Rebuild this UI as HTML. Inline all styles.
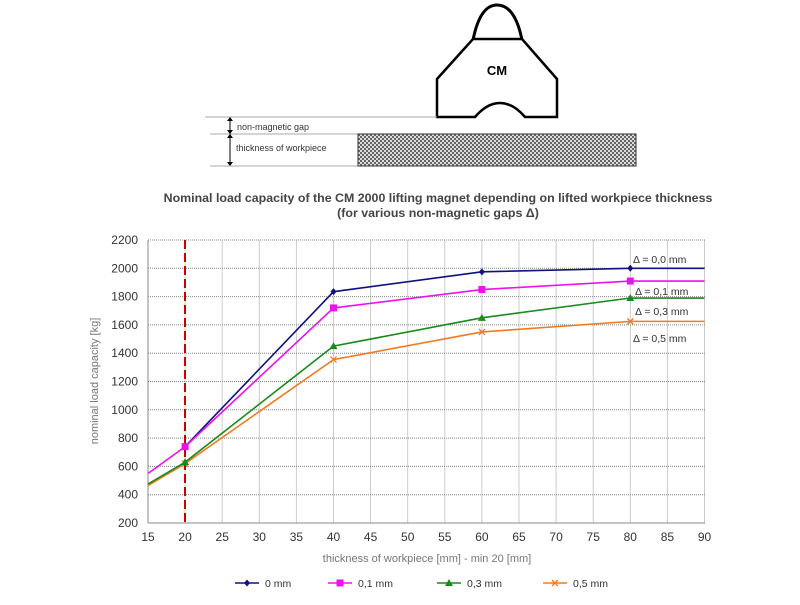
<!DOCTYPE html>
<html><head><meta charset="utf-8"><style>
body{margin:0;background:#fff;width:800px;height:600px;overflow:hidden;font-family:"Liberation Sans",sans-serif}
</style></head><body>
<svg id="s" width="800" height="600" xmlns="http://www.w3.org/2000/svg" font-family="Liberation Sans, sans-serif">
<defs><pattern id="ck" width="4" height="4" patternUnits="userSpaceOnUse"><rect width="4" height="4" fill="#ddd"/><rect width="2" height="2" fill="#666"/><rect x="2" y="2" width="2" height="2" fill="#666"/></pattern></defs>
<path d="M473,40 Q480,5 497,5 Q515,5 522,40 Z" fill="none" stroke="#000" stroke-width="3"/>
<path d="M473,39 L522,39 L557,79 L557,117 L525,117 Q513,103 500,103 Q487,103 475,117 L437,117 L437,79 Z" fill="#fff" stroke="#000" stroke-width="2.5"/>
<text x="497" y="75" font-size="13" font-weight="bold" text-anchor="middle">CM</text>
<line x1="205" y1="117" x2="437" y2="117" stroke="#aaa"/>
<line x1="210" y1="134" x2="358" y2="134" stroke="#aaa"/>
<line x1="210" y1="166" x2="358" y2="166" stroke="#aaa"/>
<line x1="230" y1="118" x2="230" y2="165" stroke="#000"/>
<path d="M227,121 L230,117 L233,121 Z M227,130 L230,134 L233,130 Z M227,138 L230,134 L233,138 Z M227,162 L230,166 L233,162 Z" fill="#000"/>
<text x="237" y="130" font-size="9" fill="#333">non-magnetic gap</text>
<text x="236" y="151" font-size="9" fill="#333">thickness of workpiece</text>
<rect x="358" y="134" width="278" height="32" fill="url(#ck)" stroke="#333"/>
<text x="438" y="202" font-size="12.4" font-weight="bold" fill="#444" text-anchor="middle">Nominal load capacity of the CM 2000 lifting magnet depending on lifted workpiece thickness</text>
<text x="438" y="217" font-size="12.4" font-weight="bold" fill="#444" text-anchor="middle">(for various non-magnetic gaps Δ)</text>
<g id="c"></g>
<text x="98" y="381" font-size="11" fill="#777" text-anchor="middle" transform="rotate(-90 98 381)">nominal load capacity [kg]</text>
<text x="427" y="562" font-size="11" fill="#777" text-anchor="middle">thickness of workpiece [mm] - min 20 [mm]</text>
<g font-size="10.5" fill="#333">
<text x="633" y="263">Δ = 0,0 mm</text>
<text x="635" y="295">Δ = 0,1 mm</text>
<text x="635" y="315">Δ = 0,3 mm</text>
<text x="633" y="342">Δ = 0,5 mm</text>
</g>
</svg>
<script>
var g=document.getElementById('c'),h='';
function X(v){return 148+(v-15)*7.42}function Y(v){return 523-(v-200)*0.1415}
for(var v=15;v<=90;v+=5){var x=X(v);h+='<line x1="'+x+'" y1="240" x2="'+x+'" y2="523" stroke="#ccc"/>';h+='<text x="'+x+'" y="541" font-size="12" fill="#333" text-anchor="middle">'+v+'</text>';}
for(var v=200;v<=2200;v+=200){var y=Y(v);if(v>200)h+='<line x1="148" y1="'+y+'" x2="705" y2="'+y+'" stroke="#888" stroke-dasharray="1,1"/>';h+='<text x="138" y="'+(y+4)+'" font-size="12" fill="#333" text-anchor="end">'+v+'</text>';}
h+='<line x1="148" y1="240" x2="148" y2="523" stroke="#888"/><line x1="148" y1="523" x2="705" y2="523" stroke="#888"/>';
h+='<line x1="185" y1="240" x2="185" y2="523" stroke="#c00" stroke-width="2" stroke-dasharray="9,4"/>';
var S=[['#101080',[[20,740],[40,1835],[60,1975],[80,2000],[90,2000]],'d'],
['#f47a20',[[15,465],[20,620],[40,1355],[60,1550],[80,1625],[90,1625]],'x'],
['#1a8a1a',[[15,475],[20,630],[40,1450],[60,1650],[80,1790],[90,1790]],'t'],
['#ee11ee',[[15,550],[20,740],[40,1720],[60,1850],[80,1910],[90,1910]],'s']];
function mk(t,c,x,y){if(t=='s')return '<rect x="'+(x-3.5)+'" y="'+(y-3.5)+'" width="7" height="7" fill="'+c+'"/>';
if(t=='t')return '<path d="M'+x+','+(y-4)+'L'+(x+4)+','+(y+3)+'L'+(x-4)+','+(y+3)+'Z" fill="'+c+'"/>';
if(t=='d')return '<path d="M'+x+','+(y-3.5)+'L'+(x+3)+','+y+'L'+x+','+(y+3.5)+'L'+(x-3)+','+y+'Z" fill="'+c+'"/>';
return '<path d="M'+(x-3)+','+(y-3)+'L'+(x+3)+','+(y+3)+'M'+(x+3)+','+(y-3)+'L'+(x-3)+','+(y+3)+'" stroke="'+c+'" stroke-width="1.3"/>';}
S.forEach(function(s){var p=s[1].map(function(q){return X(q[0])+','+Y(q[1])}).join(' ');
h+='<polyline points="'+p+'" fill="none" stroke="'+s[0]+'" stroke-width="1.6"/>';
s[1].forEach(function(q,i){if(i<s[1].length-1&&!(q[0]==15))h+=mk(s[2],s[0],X(q[0]),Y(q[1]));});});
var L=[['#101080','d','0 mm',235],['#ee11ee','s','0,1 mm',328],['#1a8a1a','t','0,3 mm',437],['#f47a20','x','0,5 mm',543]];
L.forEach(function(l){h+='<line x1="'+l[3]+'" y1="583" x2="'+(l[3]+24)+'" y2="583" stroke="'+l[0]+'" stroke-width="1.6"/>'+mk(l[1],l[0],l[3]+12,583)+'<text x="'+(l[3]+30)+'" y="587" font-size="10.5" fill="#333">'+l[2]+'</text>';});
g.innerHTML=h;
</script>
</body></html>
